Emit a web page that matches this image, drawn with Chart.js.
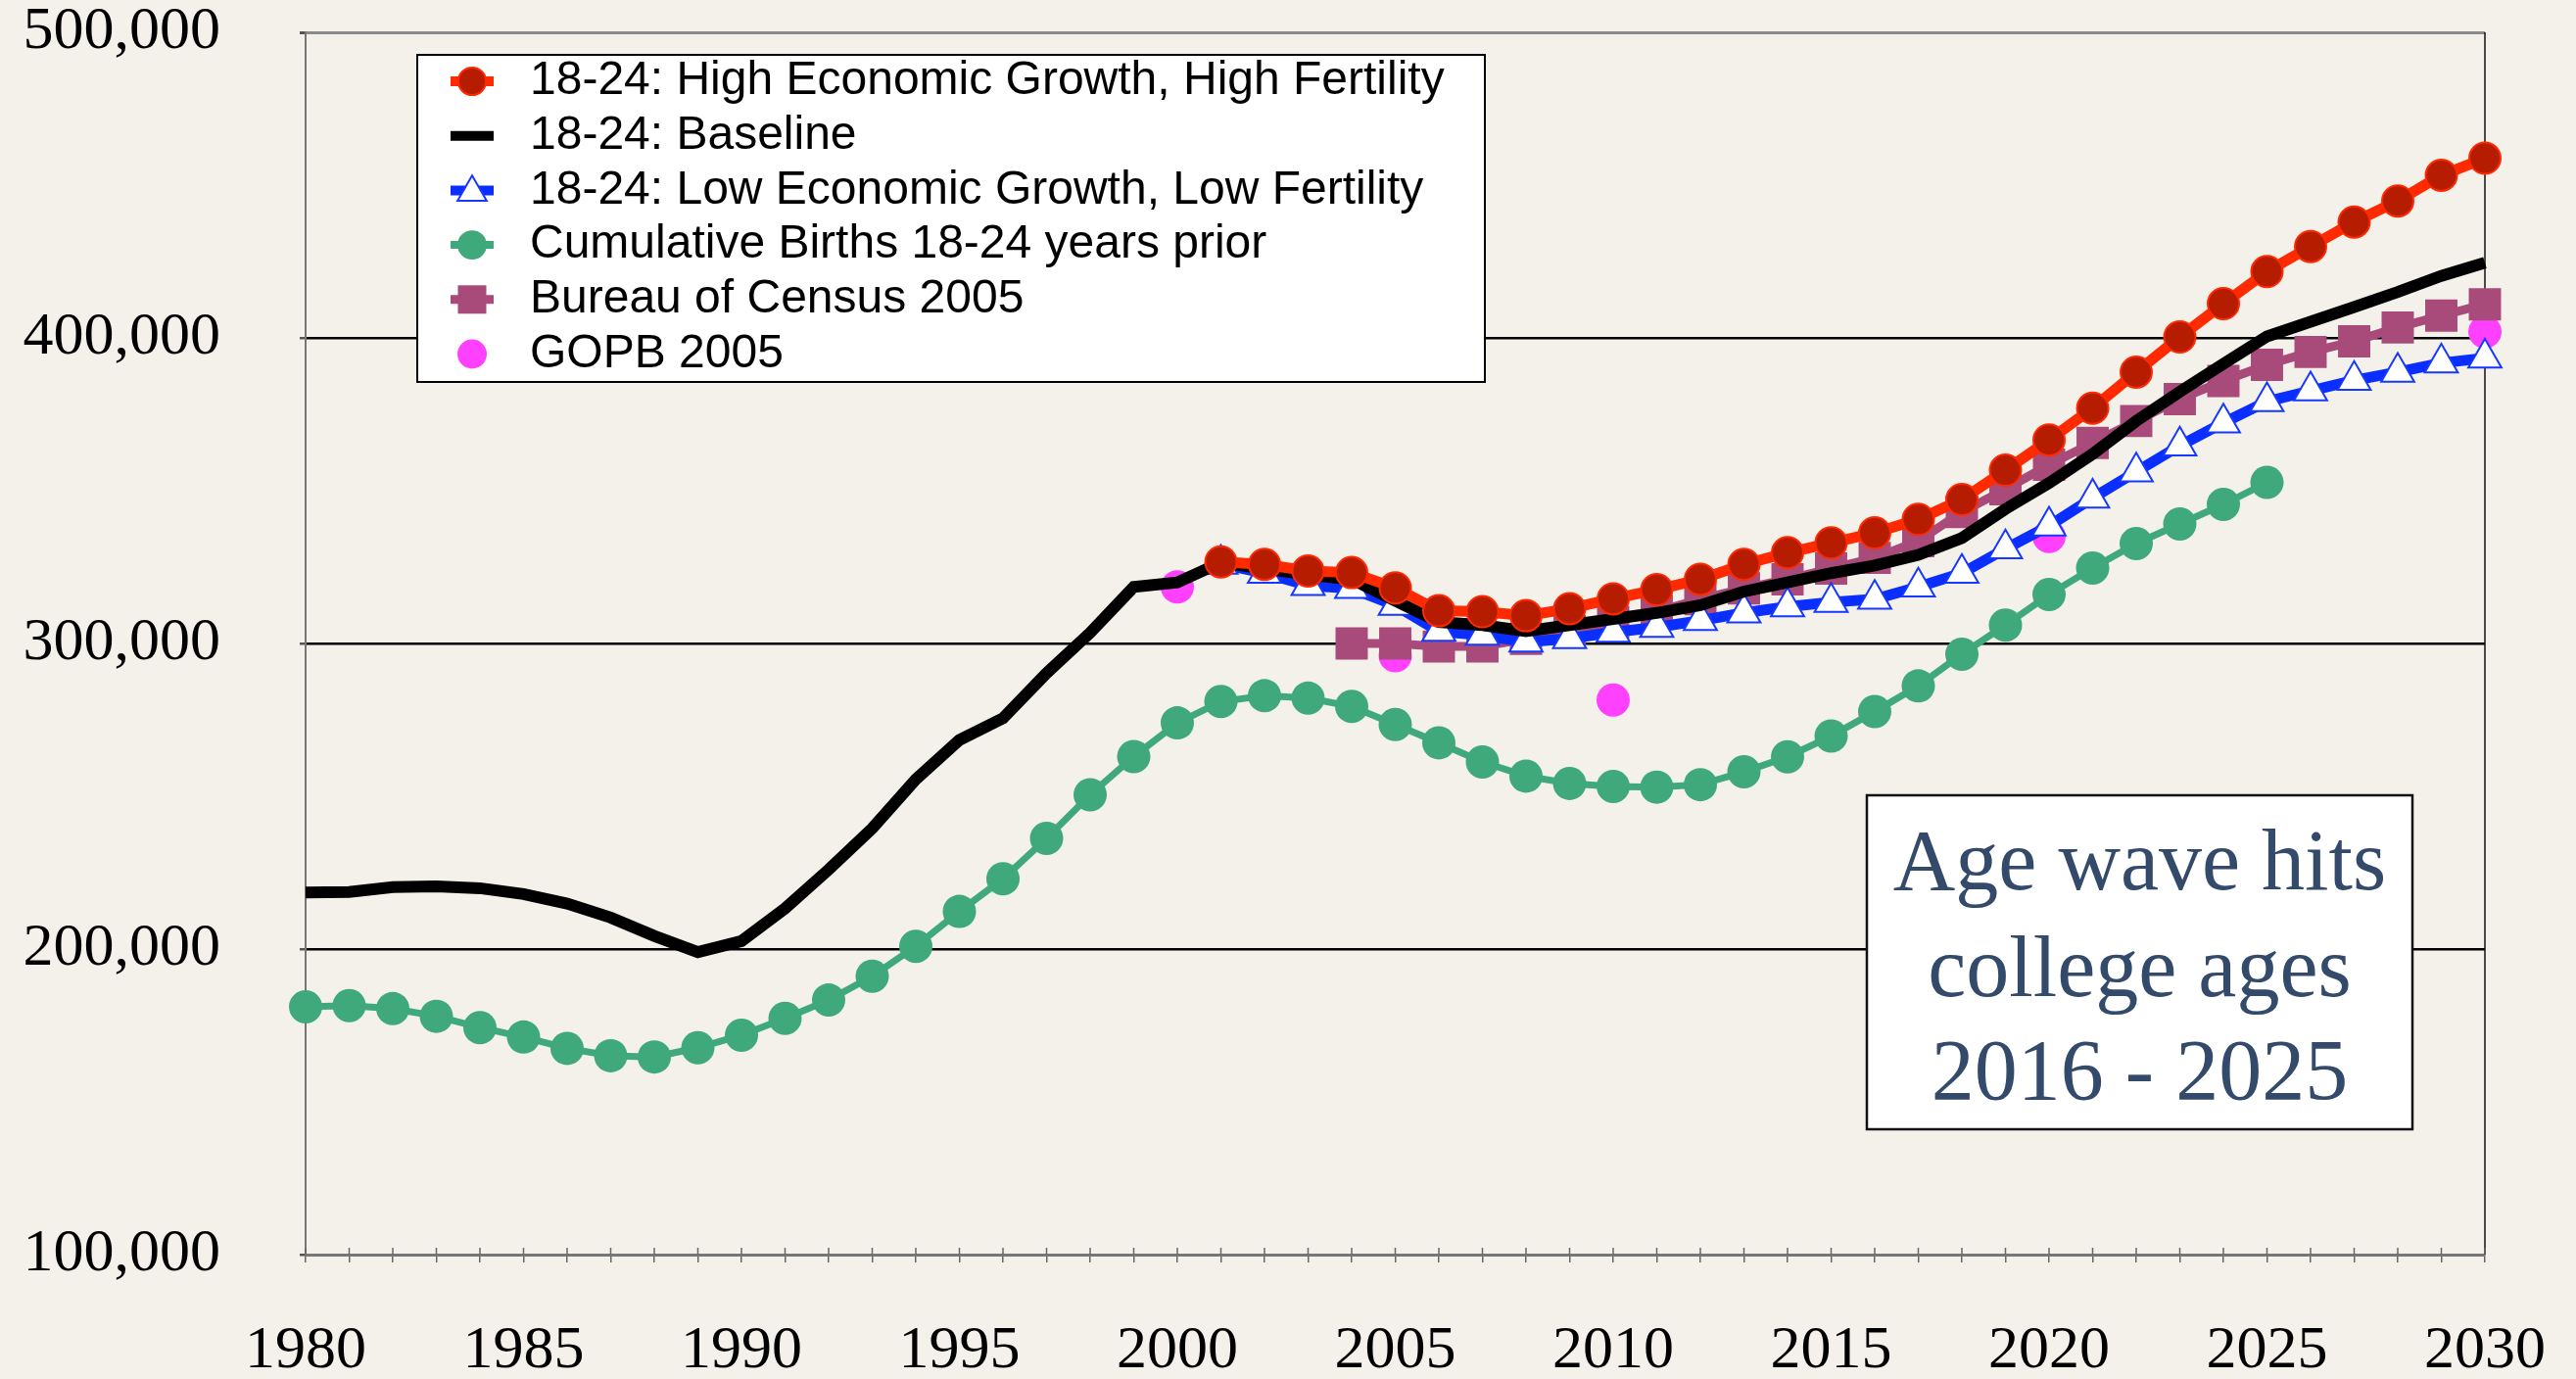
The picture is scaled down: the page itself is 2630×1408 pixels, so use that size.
<!DOCTYPE html>
<html>
<head>
<meta charset="utf-8">
<title>Age wave hits college ages</title>
<script src="https://cdn.jsdelivr.net/npm/chart.js@4.4.1/dist/chart.umd.min.js"></script>
<style>
  html, body { margin:0; padding:0; background:#f4f1ea; overflow:hidden; }
  canvas { display:block; }
</style>
</head>
<body>
<canvas id="chart" width="2630" height="1408"></canvas>
<script>
// ---------------- DATA ----------------
const years = [1980, 1981, 1982, 1983, 1984, 1985, 1986, 1987, 1988, 1989,
               1990, 1991, 1992, 1993, 1994, 1995, 1996, 1997, 1998, 1999,
               2000, 2001, 2002, 2003, 2004, 2005, 2006, 2007, 2008, 2009,
               2010, 2011, 2012, 2013, 2014, 2015, 2016, 2017, 2018, 2019,
               2020, 2021, 2022, 2023, 2024, 2025, 2026, 2027, 2028, 2029, 2030];
const xTickLabels = ['1980', '1985', '1990', '1995', '2000', '2005', '2010', '2015', '2020', '2025', '2030'];
const yTickValues = [100000, 200000, 300000, 400000, 500000];

const highLabel = '18-24: High Economic Growth, High Fertility';
const highStart = 2001;
const high = [326700, 325900, 323700, 323200, 318200, 310700, 310400, 309100, 311400, 314600,
              317600, 321000, 325900, 329700, 332900, 336200, 340600, 347100, 356700, 366600,
              377000, 388800, 400300, 411200, 421700, 429900, 437900, 444800, 453200, 458800];

const baselineLabel = '18-24: Baseline';
const baselineStart = 1980;
const baseline = [218500, 218700, 220300, 220500, 219900, 218000, 214900, 210300, 204300, 199000,
                  202600, 213300, 226000, 239500, 255500, 268400, 275500, 290300, 303500, 318500,
                  320000, 326500, 324500, 322500, 321000, 314000, 307000, 306000, 304000, 306000,
                  308000, 310000, 312500, 317000, 320000, 323000, 325500, 329000, 334500, 344000,
                  352500, 362000, 372800, 382400, 391500, 400500, 405300, 410100, 415000, 420300, 424600];

const lowLabel = '18-24: Low Economic Growth, Low Fertility';
const lowStart = 2001;
const low = [326000, 323000, 319000, 318000, 312500, 304000, 302700, 300500, 301600, 303700,
             305300, 307500, 310000, 312000, 313500, 314500, 318500, 323000, 331000, 338500,
             347600, 356200, 364700, 372200, 379200, 382700, 386100, 388800, 391800, 393400];

const birthsLabel = 'Cumulative Births 18-24 years prior';
const birthsStart = 1980;
const births = [181100, 181500, 180500, 178000, 174300, 171200, 167500, 165100, 164700, 167700,
                171800, 177300, 183300, 191100, 200900, 212300, 223000, 236200, 250500, 263000,
                274000, 281000, 282900, 282100, 279400, 273500, 267500, 261200, 256600, 254200,
                253200, 253000, 253800, 258000, 262900, 269700, 277700, 286100, 296500, 306000,
                316000, 324700, 332700, 339100, 345500, 352700];

const censusLabel = 'Bureau of Census 2005';
const censusStart = 2004;
const census = [300000, 300000, 299000, 299000, 301500, 304000, 307000, 310500, 314500, 318000,
                321000, 324500, 328000, 333500, 343000, 350500, 358500, 365600, 372800, 380000,
                385900, 391200, 395400, 398900, 403400, 407300, 411000];

const gopbLabel = 'GOPB 2005';
const gopbYears = [2000, 2005, 2010, 2020, 2030];
const gopb = [318500, 296000, 281500, 335000, 402000];

const noteLines = ['Age wave hits', 'college ages', '2016 - 2025'];

// ---------------- HELPERS ----------------
function alignFrom(start, values) {
  return years.map(y => {
    const i = y - start;
    return (i >= 0 && i < values.length) ? values[i] : null;
  });
}
function alignAt(ys, values) {
  return years.map(y => {
    const i = ys.indexOf(y);
    return i >= 0 ? values[i] : null;
  });
}

function drawMarker(ctx, style, x, y, r, fill, stroke, bw) {
  ctx.beginPath();
  if (style === 'triangle') {
    let rad = 0;
    const step = Math.PI * 2 / 3;
    ctx.moveTo(x + Math.sin(rad) * r, y - Math.cos(rad) * r);
    rad += step;
    ctx.lineTo(x + Math.sin(rad) * r, y - Math.cos(rad) * r);
    rad += step;
    ctx.lineTo(x + Math.sin(rad) * r, y - Math.cos(rad) * r);
    ctx.closePath();
  } else if (style === 'rect') {
    const h = r * Math.SQRT1_2;
    ctx.rect(x - h, y - h, 2 * h, 2 * h);
  } else {
    ctx.arc(x, y, r, 0, Math.PI * 2);
  }
  ctx.fillStyle = fill;
  ctx.fill();
  if (bw > 0) {
    ctx.lineWidth = bw;
    ctx.strokeStyle = stroke;
    ctx.stroke();
  }
}

function zeroPadding(s) {
  s.paddingTop = 0; s.paddingBottom = 0; s.paddingLeft = 0; s.paddingRight = 0;
}

// ---------------- PLUGINS ----------------
const framePlugin = {
  id: 'frame',
  beforeDatasetsDraw(chart) {
    const { ctx, chartArea: a, scales: { x } } = chart;
    ctx.save();
    ctx.strokeStyle = '#111';
    ctx.lineWidth = 1.5;
    ctx.beginPath();
    ctx.moveTo(a.right, a.top);
    ctx.lineTo(a.right, a.bottom);
    ctx.stroke();
    ctx.strokeStyle = '#666';
    ctx.lineWidth = 1.5;
    x.ticks.forEach((t, i) => {
      const px = x.getPixelForTick(i);
      ctx.beginPath();
      ctx.moveTo(px, a.bottom);
      ctx.lineTo(px, a.bottom - 7);
      ctx.stroke();
    });
    ctx.restore();
  }
};

const boxesPlugin = {
  id: 'boxes',
  afterDraw(chart) {
    const ctx = chart.ctx;
    ctx.save();
    // ---- legend box ----
    const lx = 426, ly = 56, lw = 1090, lh = 334;
    ctx.fillStyle = '#ffffff';
    ctx.fillRect(lx, ly, lw, lh);
    ctx.strokeStyle = '#000';
    ctx.lineWidth = 2;
    ctx.strokeRect(lx, ly, lw, lh);
    const rowY0 = 83, rowStep = 55.7, mx = 482, tx = 541;
    chart.data.datasets.forEach((ds, i) => {
      const cy = rowY0 + i * rowStep;
      if (ds.showLine !== false) {
        ctx.strokeStyle = ds.borderColor;
        ctx.lineWidth = Math.min(Math.max(ds.borderWidth, 8), 10);
        ctx.lineCap = 'butt';
        ctx.beginPath();
        ctx.moveTo(mx - 22, cy);
        ctx.lineTo(mx + 22, cy);
        ctx.stroke();
      }
      if (ds.pointRadius > 0) {
        drawMarker(ctx, ds.pointStyle || 'circle', mx, cy + (ds.pointStyle === 'triangle' ? 2 : 0),
                   ds.pointRadius * 0.88, ds.pointBackgroundColor, ds.pointBorderColor, ds.pointBorderWidth);
      }
      ctx.fillStyle = '#000';
      ctx.font = '48px "Liberation Sans", Arial, sans-serif';
      ctx.textAlign = 'left';
      ctx.textBaseline = 'middle';
      ctx.fillText(ds.label, tx, cy);
    });
    // ---- annotation box ----
    const ax = 1906, ay = 812, aw = 557, ah = 341;
    ctx.fillStyle = '#ffffff';
    ctx.fillRect(ax, ay, aw, ah);
    ctx.strokeStyle = '#111';
    ctx.lineWidth = 2.5;
    ctx.strokeRect(ax, ay, aw, ah);
    ctx.fillStyle = '#344a6b';
    ctx.font = '88px "Liberation Serif", "Times New Roman", serif';
    ctx.textAlign = 'center';
    ctx.textBaseline = 'alphabetic';
    const baselines = [908, 1017, 1122];
    noteLines.forEach((t, i) => ctx.fillText(t, ax + aw / 2, baselines[i]));
    ctx.restore();
  }
};

// ---------------- CHART ----------------
const datasets = [
  {
    label: highLabel, data: alignFrom(highStart, high),
    borderColor: '#ff2a00', borderWidth: 11,
    pointStyle: 'circle', pointRadius: 16, pointHoverRadius: 16,
    pointBackgroundColor: '#b51c00', pointBorderColor: '#ff2a00', pointBorderWidth: 2,
    order: 1
  },
  {
    label: baselineLabel, data: alignFrom(baselineStart, baseline),
    borderColor: '#000000', borderWidth: 12,
    pointRadius: 0, pointHoverRadius: 0,
    order: 2
  },
  {
    label: lowLabel, data: alignFrom(lowStart, low),
    borderColor: '#0a2eff', borderWidth: 11,
    pointStyle: 'triangle', pointRadius: 19.5, pointHoverRadius: 19.5,
    pointBackgroundColor: '#ffffff', pointBorderColor: '#1638ff', pointBorderWidth: 2,
    order: 3
  },
  {
    label: birthsLabel, data: alignFrom(birthsStart, births),
    borderColor: '#3fa97c', borderWidth: 7,
    pointStyle: 'circle', pointRadius: 17, pointHoverRadius: 17,
    pointBackgroundColor: '#3fa97c', pointBorderColor: '#3fa97c', pointBorderWidth: 0,
    order: 4
  },
  {
    label: censusLabel, data: alignFrom(censusStart, census),
    borderColor: '#a84b7b', borderWidth: 9,
    pointStyle: 'rect', pointRadius: 23.3, pointHoverRadius: 23.3,
    pointBackgroundColor: '#a84b7b', pointBorderColor: '#a84b7b', pointBorderWidth: 0,
    order: 5
  },
  {
    label: gopbLabel, data: alignAt(gopbYears, gopb),
    showLine: false, borderColor: '#ff40ff', borderWidth: 0,
    pointStyle: 'circle', pointRadius: 17, pointHoverRadius: 17,
    pointBackgroundColor: '#ff40ff', pointBorderColor: '#ff40ff', pointBorderWidth: 0,
    order: 6
  }
];
datasets.forEach(d => { d.clip = false; d.tension = 0; d.spanGaps = false; d.fill = false; });

new Chart(document.getElementById('chart'), {
  type: 'line',
  data: { labels: years, datasets },
  plugins: [framePlugin, boxesPlugin],
  options: {
    responsive: false,
    devicePixelRatio: 1,
    animation: false,
    layout: { padding: { top: 33, right: 93, left: 0, bottom: 0 } },
    plugins: { legend: { display: false }, tooltip: { enabled: false } },
    scales: {
      x: {
        type: 'category',
        offset: false,
        afterFit(s) { s.height = 127; zeroPadding(s); },
        grid: { drawOnChartArea: false, drawTicks: true, tickLength: 8, color: '#666', lineWidth: 1.5, offset: false },
        border: { color: '#777', width: 3 },
        ticks: {
          autoSkip: false, maxRotation: 0, minRotation: 0, padding: 54,
          color: '#000',
          font: { family: '"Liberation Serif", "Times New Roman", serif', size: 62 },
          callback(v, i) {
            const s = String(years[i]);
            return xTickLabels.includes(s) ? s : '';
          }
        }
      },
      y: {
        min: 100000, max: 500000,
        afterFit(s) { s.width = 312; zeroPadding(s); },
        afterBuildTicks(s) { s.ticks = yTickValues.map(v => ({ value: v })); },
        grid: {
          drawTicks: true, tickLength: 6, tickColor: '#555',
          color(c) {
            const v = c.tick && c.tick.value;
            if (v === 100000) return 'rgba(0,0,0,0)';
            if (v === 500000) return '#8a8a8a';
            return '#000';
          },
          lineWidth(c) {
            const v = c.tick && c.tick.value;
            return v === 500000 ? 3 : 2.5;
          }
        },
        border: { color: '#777', width: 2 },
        ticks: {
          padding: 81,
          color: '#000',
          font: { family: '"Liberation Serif", "Times New Roman", serif', size: 62 },
          callback(v) { return Number(v).toLocaleString('en-US'); }
        }
      }
    }
  }
});
</script>
</body>
</html>
